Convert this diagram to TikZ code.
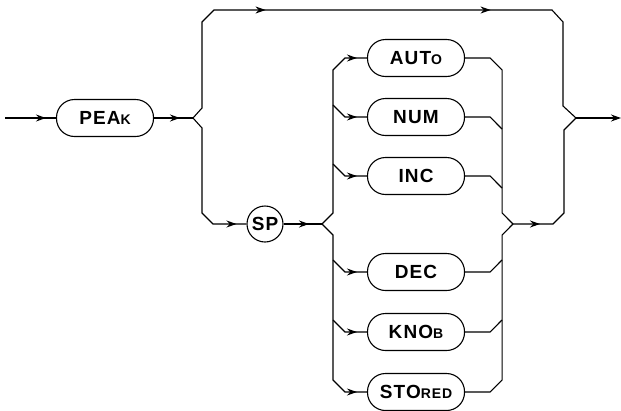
\documentclass[tikz,border=0pt]{standalone}
\usepackage{fontspec}
\usepackage{tikz}
\usetikzlibrary{arrows.meta,decorations.markings}
\newfontfamily\keyfont[LetterSpace=6]{Liberation Sans}
\newcommand{\lowcaps}[1]{{\fontsize{14}{14}\selectfont #1}}

\begin{document}
\begin{tikzpicture}[x=1pt, y=-1pt, line width=1.1pt, >={Stealth[length=10pt,width=7pt]},
    key/.style={draw, rounded corners=18pt, minimum width=97pt, minimum height=37pt, inner sep=0pt,
        font=\keyfont\bfseries\fontsize{19}{19}\selectfont},
    dot/.style={circle, draw, minimum size=36pt, inner sep=0pt,
        font=\keyfont\bfseries\fontsize{19}{19}\selectfont},
    arrowat/.style={postaction={decorate},
        decoration={markings, mark=at position #1 with {\arrow{>}}}}]
    \useasboundingbox (0,0) rectangle (621,410);

    \node[key] (peak) at (105,118) {PEA\lowcaps{K}};
    \node[dot] (sp) at (265,224) {SP};
    \node[key] (auto) at (416,58) {AUT\lowcaps{O}};
    \node[key] (num) at (416,117) {NUM};
    \node[key] (inc) at (416,176) {INC};
    \node[key] (dec) at (416,272) {DEC};
    \node[key] (knob) at (416,332) {KNO\lowcaps{B}};
    \node[key] (stored) at (416,392) {STO\lowcaps{RED}};

    \coordinate (in) at (5,118);
    \coordinate (b1) at (193,118);
    \coordinate (b2) at (322,224);
    \coordinate (b3) at (513,224);
    \coordinate (b4) at (576,118);
    \coordinate (out) at (621,118);
    \coordinate (lnum) at (333,105);
    \coordinate (linc) at (333,164);
    \coordinate (ldec) at (333,260);
    \coordinate (lknob) at (333,320);
    \coordinate (rnum) at (502,129);
    \coordinate (rinc) at (502,188);
    \coordinate (rdec) at (502,260);
    \coordinate (rknob) at (502,320);

    \draw[arrowat=-10pt] (in) -- (peak);
    \draw[arrowat=-13pt] (peak) -- (b1);
    \draw[postaction={decorate}, decoration={markings,
            mark=at position 168pt with {\arrow{>}}, mark=at position 393pt with {\arrow{>}}}]
        (b1) -- ++(9,-10) -- ++(0,-86) -- ++(12,-12) -- ++(338,0) -- ++(11,12) -- ++(0,84) -- (b4);
    \draw[arrowat=-10pt] (b1) -- ++(9,10) -- ++(0,85) -- ++(11,11) -- (sp);
    \draw[arrowat=-13pt] (sp) -- (b2);

    % into the choices
    \draw[arrowat=-10pt] (b2) -- ++(11,-11) -- ++(0,-143) -- ++(12,-12) -- (auto);
    \draw[arrowat=-10pt] (lnum) -- ++(12,12) -- (num);
    \draw[arrowat=-10pt] (linc) -- ++(12,12) -- (inc);
    \draw[arrowat=-10pt] (ldec) -- ++(12,12) -- (dec);
    \draw[arrowat=-10pt] (lknob) -- ++(12,12) -- (knob);
    \draw[arrowat=-10pt] (b2) -- ++(11,11) -- ++(0,145) -- ++(12,12) -- (stored);

    % out of the choices
    \draw (auto.east) -- ++(25,0) -- ++(12,12) -- ++(0,143) -- (b3);
    \draw (num.east) -- ++(25,0) -- (rnum);
    \draw (inc.east) -- ++(25,0) -- (rinc);
    \draw (dec.east) -- ++(25,0) -- (rdec);
    \draw (knob.east) -- ++(25,0) -- (rknob);
    \draw (stored.east) -- ++(25,0) -- ++(12,-12) -- ++(0,-145) -- (b3);

    \draw[arrowat=27pt] (b3) -- ++(40,0) -- ++(11,-11) -- ++(0,-83) -- (b4);
    \draw[->] (b4) -- (out);
\end{tikzpicture}
\end{document}
